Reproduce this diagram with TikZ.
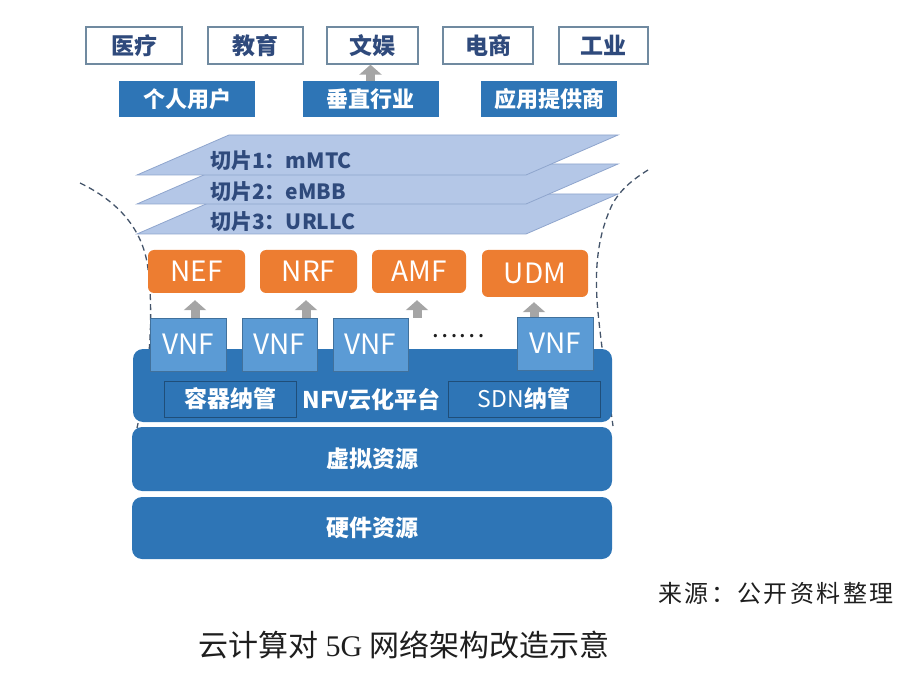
\documentclass[tikz,border=0pt]{standalone}
\usepackage{fontspec}
\setmainfont{Noto Sans CJK SC}
\newfontfamily\serifl{Liberation Serif}
\newfontfamily\srcfont[LetterSpace=10]{Noto Sans CJK SC}
\usetikzlibrary{arrows.meta,calc}
\definecolor{navy}{RGB}{47,74,124}
\definecolor{topborder}{RGB}{112,138,160}
\definecolor{midblue}{RGB}{46,117,182}
\definecolor{darkblue}{RGB}{31,78,121}
\definecolor{vnfblue}{RGB}{91,155,213}
\definecolor{vnfborder}{RGB}{65,113,156}
\definecolor{nforange}{RGB}{237,125,49}
\definecolor{arrowgray}{RGB}{165,165,165}
\definecolor{slicefill}{RGB}{180,199,231}
\definecolor{sliceedge}{RGB}{143,165,205}
\definecolor{dashc}{RGB}{68,84,106}
\definecolor{captext}{RGB}{30,30,30}
\begin{document}
\begin{tikzpicture}[x=1pt,y=-1pt,
  topbox/.style={draw=topborder, line width=1.4pt, fill=white, minimum height=37pt, inner sep=0pt,
    font=\bfseries\fontsize{23}{23}\selectfont, text=navy},
  userbox/.style={fill=midblue, minimum height=36pt, minimum width=136pt, inner sep=0pt,
    font=\bfseries\fontsize{22}{22}\selectfont, text=white},
  nfbox/.style={fill=nforange, rounded corners=6pt, minimum height=43pt, inner sep=0pt,
    font=\fontsize{28}{28}\selectfont, text=white},
  vnfbox/.style={fill=vnfblue, draw=vnfborder, line width=0.8pt, minimum width=75pt, minimum height=53pt,
    inner sep=0pt, font=\fontsize{28}{28}\selectfont, text=white},
  layerbox/.style={fill=midblue, rounded corners=10pt, minimum width=480pt, inner sep=0pt,
    font=\bfseries\fontsize{23}{23}\selectfont, text=white},
  innerbox/.style={draw=darkblue, line width=1pt, minimum height=36pt, inner sep=0pt, text=white,
    font=\fontsize{23}{23}\selectfont},
  slicelabel/.style={anchor=west, inner sep=0pt, font=\bfseries\fontsize{21}{21}\selectfont, text=navy},
  slicepoly/.style={fill=slicefill, draw=sliceedge, line width=0.8pt},
  uparrow/.style={draw=arrowgray, line width=9pt, -{Triangle[width=22pt,length=10pt]}},
  dashline/.style={draw=dashc, line width=1.3pt, dash pattern=on 6pt off 4pt},
  plaintext/.style={inner sep=0pt, text=captext}
]
\useasboundingbox (0,0) rectangle (918,676);

% dashed envelope curves
\draw[dashline] (80,183) .. controls (115,200) and (140,225) .. (147,262)
  .. controls (152,292) and (151,330) .. (149,352)
  .. controls (147,382) and (141,410) .. (137,428);
\draw[dashline] (648,170) .. controls (632,180) and (620,190) .. (612,205)
  .. controls (598,235) and (595,265) .. (597,300)
  .. controls (600,340) and (608,390) .. (613,426);

% slices
\filldraw[slicepoly] (137,234) -- (229,194) -- (618,194) -- (526,234) -- cycle;
\filldraw[slicepoly] (137,204) -- (229,164) -- (618,164) -- (526,204) -- cycle;
\filldraw[slicepoly] (137,175) -- (229,135) -- (618,135) -- (526,175) -- cycle;
\node[slicelabel] (s1) at (210,161) {切片1：mMTC};
\node[slicelabel] (s2) at (210,192) {切片2：eMBB};
\node[slicelabel] (s3) at (210,222) {切片3：URLLC};

% application boxes
\node[topbox, minimum width=96pt] (yl) at (134,45.5) {医疗};
\node[topbox, minimum width=95pt] (jy) at (255.5,45.5) {教育};
\node[topbox, minimum width=91pt] (wy) at (372.5,45.5) {文娱};
\node[topbox, minimum width=90pt] (ds) at (488,45.5) {电商};
\node[topbox, minimum width=89pt] (gy) at (603.5,45.5) {工业};

\node[userbox] (gr) at (187,99) {个人用户};
\node[userbox] (cz) at (370.5,99) {垂直行业};
\node[userbox] (yy) at (549,99) {应用提供商};
\draw[uparrow] (cz.north) -- (cz.north |- wy.south);

% network functions
\node[nfbox, minimum width=97pt] (nef) at (196.5,271.5) {NEF};
\node[nfbox, minimum width=97pt] (nrf) at (308.5,271.5) {NRF};
\node[nfbox, minimum width=94pt] (amf) at (419,271.5) {AMF};
\node[nfbox, minimum width=106pt, minimum height=47pt] (udm) at (535,273.5) {UDM};

% NFV platform
\node[layerbox, minimum width=479pt, minimum height=73pt] (nfv) at (372.5,385.5) {};
\node[innerbox, minimum width=132pt, font=\bfseries\fontsize{23}{23}\selectfont] (rq) at (230,399) {容器纳管};
\node[innerbox, minimum width=152pt] (sdn) at (524,399) {SDN{\bfseries 纳管}};
\node[inner sep=0pt, text=white, font=\bfseries\fontsize{23}{23}\selectfont] (nfvt) at (371.5,400) {NFV云化平台};

% VNFs
\node[vnfbox, minimum width=76pt] (v1) at (188,344.5) {VNF};
\node[vnfbox] (v2) at (279.5,344.5) {VNF};
\node[vnfbox] (v3) at (370.5,344.5) {VNF};
\node[vnfbox, minimum width=76pt] (v4) at (555,343.5) {VNF};
\node[inner sep=0pt, text=captext, font=\fontsize{25}{25}\selectfont] (dots) at (458,336) {……};

\draw[uparrow, shorten >=7pt] (v1.north -| 195,0) -- (nef.south -| 195,0);
\draw[uparrow, shorten >=7pt] (v2.north -| 306,0) -- (nrf.south -| 306,0);
\draw[uparrow, shorten >=7pt] (v3.north -| 417,0) -- (amf.south -| 417,0);
\draw[uparrow, shorten >=5pt] (v4.north -| 534,0) -- (udm.south -| 534,0);

% resource layers
\node[layerbox, minimum height=64pt] (xn) at (372,459) {虚拟资源};
\node[layerbox, minimum height=62pt] (yj) at (372,528) {硬件资源};

% texts
\node[plaintext, font=\srcfont\fontsize{24}{24}\selectfont] (src) at (776,593) {来源：公开资料整理};
\node[plaintext, font=\fontsize{30}{30}\selectfont] (cap) at (404,645) {云计算对 {\serifl 5G} 网络架构改造示意};
\end{tikzpicture}
\end{document}
